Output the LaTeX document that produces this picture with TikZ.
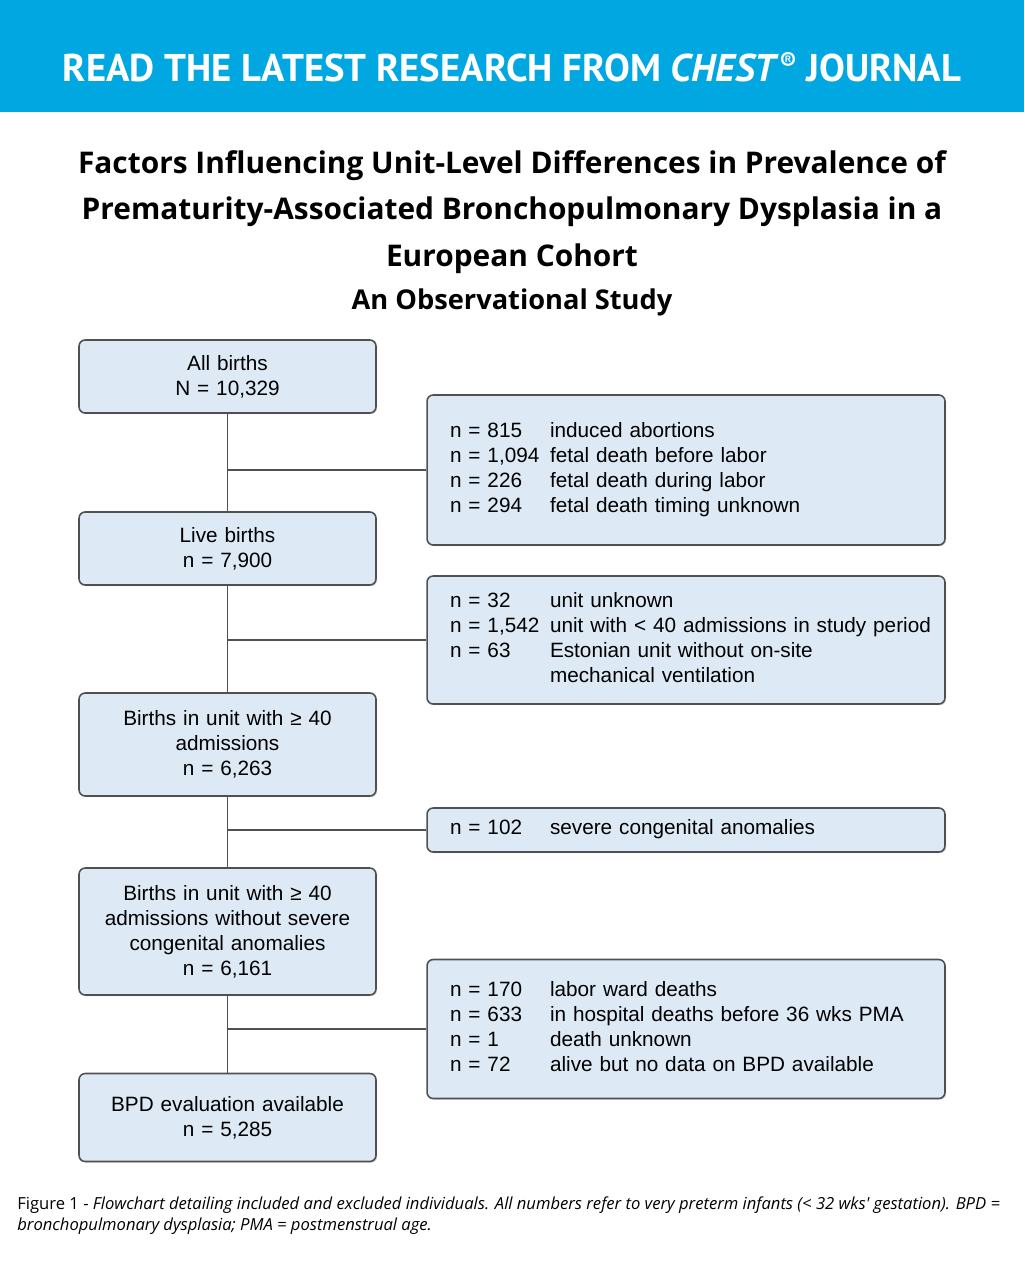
\documentclass[tikz,border=0pt]{standalone}
\usepackage{fontspec}
\setmainfont{Liberation Sans}
\newfontfamily\headfont{PT Sans}
\newfontfamily\titlefont{Open Sans}
\usetikzlibrary{shadows}
\definecolor{chestblue}{RGB}{0,167,225}
\definecolor{boxfill}{RGB}{221,234,246}
\definecolor{boxline}{RGB}{80,80,80}

\begin{document}
\begin{tikzpicture}[x=0.02cm, y=-0.02cm,
    stage/.style={draw=boxline, line width=0.9pt, fill=boxfill, rounded corners=3.5pt,
      minimum width=5.94cm, text width=5.6cm, align=center, inner sep=0pt,
      font=\fontsize{11.8}{14.2}\selectfont,
      drop shadow={shadow xshift=0.7pt, shadow yshift=-0.7pt, opacity=0.3}},
    dropout/.style={stage, minimum width=10.36cm, text width=9.44cm, inner xsep=0.46cm, align=left},
    link/.style={draw=boxline, line width=0.9pt}]
      \useasboundingbox (0,0) rectangle (1024,1280);

      % Banner
      \fill[chestblue] (0,0) rectangle (1024,112);
      \node[text=white, font=\headfont\bfseries\fontsize{22}{26}\selectfont] (banner) at (512,67)
        {READ THE LATEST RESEARCH FROM \textit{CHEST}{\fontsize{14}{14}\selectfont\raisebox{0.45em}{\textregistered}} JOURNAL};

      % Title
      \node[align=center, font=\titlefont\bfseries\fontsize{17}{26.5}\selectfont] (title) at (512,212)
        {Factors Influencing Unit-Level Differences in Prevalence of\\
         Prematurity-Associated Bronchopulmonary Dysplasia in a\\
         European Cohort};
      \node[font=\titlefont\bfseries\fontsize{15.5}{17}\selectfont] (subtitle) at (512,302) {An Observational Study};

      % Main column
      \node[stage, minimum height=1.46cm] (all) at (227.5,376.5) {All births\\N = 10,329};
      \node[stage, minimum height=1.46cm] (live) at (227.5,548.5) {Live births\\n = 7,900};
      \node[stage, minimum height=2.06cm] (unit) at (227.5,744.5) {Births in unit with ≥ 40\\admissions\\n = 6,263};
      \node[stage, minimum height=2.54cm] (nocong) at (227.5,931.5)
        {Births in unit with ≥ 40\\admissions without severe\\congenital anomalies\\n = 6,161};
      \node[stage, minimum height=1.76cm] (bpd) at (227.5,1117.5) {BPD evaluation available\\n = 5,285};

      % Exclusions
      \node[dropout, minimum height=3cm] (ex1) at (686,470)
        {\begin{tabular}{@{}p{2cm}@{}l@{}}
          n = 815 & induced abortions\\
          n = 1,094 & fetal death before labor\\
          n = 226 & fetal death during labor\\
          n = 294 & fetal death timing unknown
        \end{tabular}};
      \node[dropout, minimum height=2.56cm] (ex2) at (686,640)
        {\begin{tabular}{@{}p{2cm}@{}l@{}}
          n = 32 & unit unknown\\
          n = 1,542 & unit with < 40 admissions in study period\\
          n = 63 & Estonian unit without on-site\\
                 & mechanical ventilation
        \end{tabular}};
      \node[dropout, minimum height=0.88cm] (ex3) at (686,830)
        {\begin{tabular}{@{}p{2cm}@{}l@{}}
          n = 102 & severe congenital anomalies
        \end{tabular}};
      \node[dropout, minimum height=2.78cm] (ex4) at (686,1029)
        {\begin{tabular}{@{}p{2cm}@{}l@{}}
          n = 170 & labor ward deaths\\
          n = 633 & in hospital deaths before 36 wks PMA\\
          n = 1 & death unknown\\
          n = 72 & alive but no data on BPD available
        \end{tabular}};

      % Links
      \draw[link] (all) -- (live);
      \draw[link] (live) -- (unit);
      \draw[link] (unit) -- (nocong);
      \draw[link] (nocong) -- (bpd);
      \draw[link] (ex1.west) -- (ex1.west -| all.south);
      \draw[link] (ex2.west) -- (ex2.west -| live.south);
      \draw[link] (ex3.west) -- (ex3.west -| unit.south);
      \draw[link] (ex4.west) -- (ex4.west -| nocong.south);

      % Caption
      \node[anchor=north west, align=left, inner sep=0pt,
        font=\titlefont\fontsize{9.45}{12}\selectfont] (caption) at (17,1196)
        {Figure 1 - \textit{Flowchart detailing included and excluded individuals. All numbers refer to very preterm infants (< 32 wks' gestation). BPD =}\\
         \textit{bronchopulmonary dysplasia; PMA = postmenstrual age.}};
\end{tikzpicture}
\end{document}
